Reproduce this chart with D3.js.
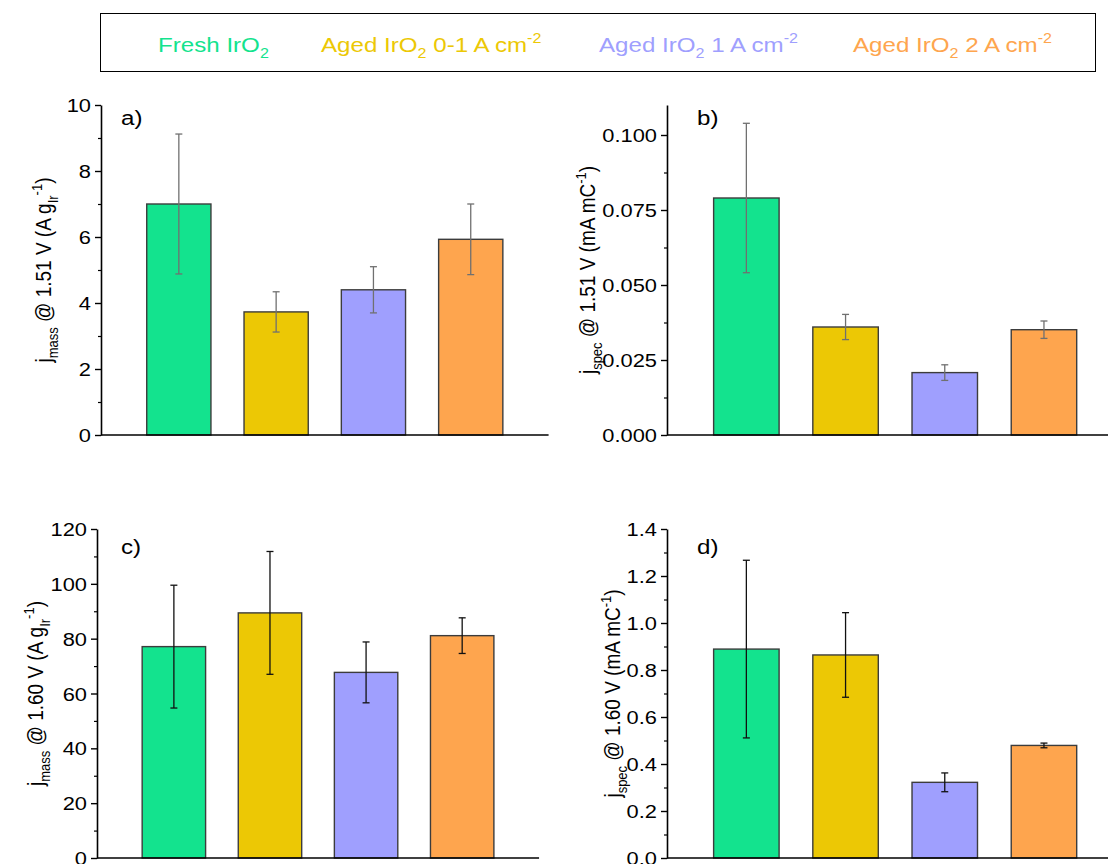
<!DOCTYPE html>
<html><head><meta charset="utf-8">
<script src="https://cdn.jsdelivr.net/npm/d3@7"></script>
<style>
body{margin:0;background:#fff}
svg{display:block}
text{font-family:"Liberation Sans",Arial,Helvetica,sans-serif;fill:#000}
</style>
</head><body>
<svg id="chart" width="1108" height="864"></svg>
<script>
// ---- data ----
const categories = ["Fresh IrO2", "Aged IrO2 0-1 A cm-2", "Aged IrO2 1 A cm-2", "Aged IrO2 2 A cm-2"];
const colors = ["#13e38e", "#ecc805", "#9f9ffe", "#fea54e"];

const jmass151 = [7.00, 3.73, 4.40, 5.93];
const jmass151Err = [2.12, 0.61, 0.70, 1.07];
const jspec151 = [0.0790, 0.0360, 0.0208, 0.0351];
const jspec151Err = [0.0249, 0.0042, 0.0026, 0.0029];
const jmass160 = [77.1, 89.4, 67.7, 81.1];
const jmass160Err = [22.4, 22.4, 11.1, 6.5];
const jspec160 = [0.889, 0.864, 0.322, 0.479];
const jspec160Err = [0.378, 0.180, 0.040, 0.010];

const ticksA = [0, 2, 4, 6, 8, 10];
const ticksB = [0, 0.025, 0.05, 0.075, 0.1];
const ticksC = [0, 20, 40, 60, 80, 100, 120];
const ticksD = [0, 0.2, 0.4, 0.6, 0.8, 1.0, 1.2, 1.4];
const minorA = [1, 3, 5, 7, 9];
const minorB = [0.0125, 0.0375, 0.0625, 0.0875];
const minorC = [10, 30, 50, 70, 90, 110];
const minorD = [0.1, 0.3, 0.5, 0.7, 0.9, 1.1, 1.3];

const svg = d3.select("#chart");
const SX = 1.15; // horizontal stretch of the text in the reference
const FONT = 19;

// ---- legend ----
svg.append("rect").attr("x", 100.5).attr("y", 13.5).attr("width", 995).attr("height", 58)
  .attr("fill", "none").attr("stroke", "#000").attr("stroke-width", 1);
const legendX = [158, 321, 599, 853];
const legendParts = [
  [["Fresh IrO", 0], ["2", 1]],
  [["Aged IrO", 0], ["2", 1], [" 0-1 A cm", 0], ["-2", 2]],
  [["Aged IrO", 0], ["2", 1], [" 1 A cm", 0], ["-2", 2]],
  [["Aged IrO", 0], ["2", 1], [" 2 A cm", 0], ["-2", 2]]
];
function richText(sel, parts, size) {
  const small = Math.round(size * 0.66);
  let cur = 0;
  parts.forEach(([t, k]) => {
    const target = k === 1 ? size * 0.3 : (k === 2 ? -size * 0.42 : 0);
    sel.append("tspan").attr("font-size", k ? small : size).attr("dy", target - cur).text(t);
    cur = target;
  });
}
categories.forEach((c, i) => {
  const t = svg.append("text")
    .attr("transform", `translate(${legendX[i]},52) scale(${SX},1)`)
    .attr("font-size", 21)
    .style("fill", colors[i]);
  richText(t, legendParts[i], 21);
  t.selectAll("tspan").style("fill", colors[i]);
});

// ---- panels ----
const panels = [
  {values: jmass151, err: jmass151Err, ymax: 10, ticks: ticksA, minor: minorA, fmt: d3.format("d"),
   x0: 101, step: 97.3, yb: 435, yt: 105, letter: "a)", lx: 121, ly: 125, errColor: "#707070",
   titleX: 51, title: [["j", 0], ["mass", 1], [" @ 1.51 V (A g", 0], ["Ir", 1], ["-1", 2], [")", 0]]},
  {values: jspec151, err: jspec151Err, ymax: 0.11, ticks: ticksB, minor: minorB, fmt: d3.format(".3f"),
   x0: 667, step: 99.2, yb: 435, yt: 105, letter: "b)", lx: 697, ly: 125, errColor: "#707070",
   titleX: 595, title: [["j", 0], ["spec", 1], [" @ 1.51 V (mA mC", 0], ["-1", 2], [")", 0]]},
  {values: jmass160, err: jmass160Err, ymax: 120, ticks: ticksC, minor: minorC, fmt: d3.format("d"),
   x0: 97, step: 96.1, yb: 858, yt: 529, letter: "c)", lx: 121, ly: 554, errColor: "#111",
   titleX: 43, title: [["j", 0], ["mass", 1], [" @ 1.60 V (A g", 0], ["Ir", 1], ["-1", 2], [")", 0]]},
  {values: jspec160, err: jspec160Err, ymax: 1.4, ticks: ticksD, minor: minorD, fmt: d3.format(".1f"),
   x0: 667, step: 99.2, yb: 858, yt: 529, letter: "d)", lx: 697, ly: 554, errColor: "#111",
   titleX: 620, title: [["j", 0], ["spec", 1], [" @ 1.60 V (mA mC", 0], ["-1", 2], [")", 0]]}
];

panels.forEach(p => {
  const x = d3.scaleLinear().domain([0.2, 4.8]).range([p.x0, p.x0 + p.step * 4.6]);
  const y = d3.scaleLinear().domain([0, p.ymax]).range([p.yb, p.yt]);
  const g = svg.append("g");
  const half = 0.33;

  // bars
  g.selectAll("rect.bar").data(p.values).join("rect").attr("class", "bar")
    .attr("x", (d, i) => x(i + 1 - half))
    .attr("width", (d, i) => x(i + 1 + half) - x(i + 1 - half))
    .attr("y", d => y(d))
    .attr("height", d => y(0) - y(d))
    .attr("fill", (d, i) => colors[i])
    .attr("stroke", "#3c3c3c").attr("stroke-width", 1.4);

  // error bars
  const eg = g.selectAll("g.err").data(p.values).join("g").attr("class", "err")
    .attr("stroke", p.errColor).attr("stroke-width", 1.3);
  eg.append("line")
    .attr("x1", (d, i) => x(i + 1)).attr("x2", (d, i) => x(i + 1))
    .attr("y1", (d, i) => y(d + p.err[i])).attr("y2", (d, i) => y(d - p.err[i]));
  [1, -1].forEach(s => {
    eg.append("line")
      .attr("x1", (d, i) => x(i + 1) - 3.5).attr("x2", (d, i) => x(i + 1) + 3.5)
      .attr("y1", (d, i) => y(d + s * p.err[i])).attr("y2", (d, i) => y(d + s * p.err[i]));
  });

  // x axis line
  g.append("line").attr("x1", x.range()[0]).attr("x2", x.range()[1])
    .attr("y1", y(0)).attr("y2", y(0)).attr("stroke", "#000").attr("stroke-width", 1.6);

  // y axis
  const ya = g.append("g").attr("transform", `translate(${p.x0},0)`)
    .call(d3.axisLeft(y).tickValues(p.ticks).tickFormat(p.fmt).tickSize(6).tickSizeOuter(0).tickPadding(4));
  ya.select(".domain").attr("stroke-width", 1.6);
  ya.selectAll(".tick line").attr("stroke-width", 1.4);
  ya.selectAll(".tick text").attr("font-size", FONT).attr("font-family", null)
    .attr("x", null).attr("dy", "0.35em")
    .attr("transform", `translate(-10,0) scale(${SX},1)`);
  const ym = g.append("g").attr("transform", `translate(${p.x0},0)`)
    .call(d3.axisLeft(y).tickValues(p.minor).tickFormat("").tickSize(3).tickSizeOuter(0));
  ym.select(".domain").remove();
  ym.selectAll(".tick line").attr("stroke-width", 1.2);

  // panel letter
  g.append("text").attr("transform", `translate(${p.lx},${p.ly}) scale(${SX},1)`)
    .attr("font-size", 21).text(p.letter);

  // y title
  const t = g.append("text")
    .attr("transform", `translate(${p.titleX},${(p.yb + p.yt) / 2}) rotate(-90) scale(1,${SX})`)
    .attr("text-anchor", "middle").attr("font-size", FONT);
  richText(t, p.title, FONT);
});
</script>
</body></html>
